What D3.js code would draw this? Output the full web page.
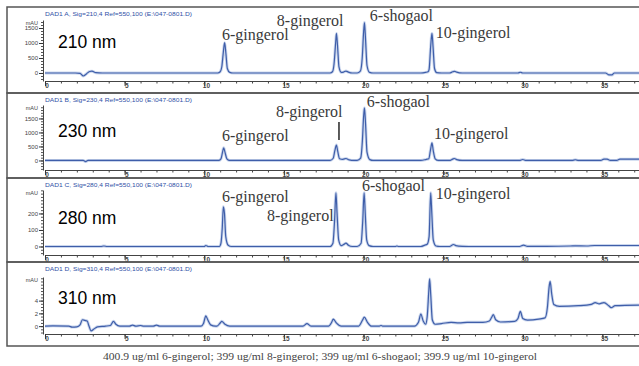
<!DOCTYPE html>
<html>
<head>
<meta charset="utf-8">
<script src="https://cdn.jsdelivr.net/npm/d3@7"></script>
<style>
  body { margin: 0; background: #fff; }
  svg { display: block; }
</style>
</head>
<body>
<svg id="chart"></svg>
<script>
// retention time axis (min)
const xTicks = [0, 5, 10, 15, 20, 25, 30, 35];

const wavelengths = ["210 nm", "230 nm", "280 nm", "310 nm"];
const signals = [
  "DAD1 A, Sig=210,4 Ref=550,100 (E:\\047-0801.D)",
  "DAD1 B, Sig=230,4 Ref=550,100 (E:\\047-0801.D)",
  "DAD1 C, Sig=280,4 Ref=550,100 (E:\\047-0801.D)",
  "DAD1 D, Sig=310,4 Ref=550,100 (E:\\047-0801.D)"
];

const yTicks210 = [0, 500, 1000, 1500];
const yTicks230 = [0, 500, 1000, 1500];
const yTicks280 = [0, 100, 200];
const yTicks310 = [0, 2, 4];

// [time, mAU]
const trace210 = [
  [0, 0], [1.9, 0], [2.2, -10], [2.4, -100], [2.6, -30], [2.8, 50], [2.95, 60], [3.2, 10], [3.6, 0],
  [10.85, 0], [11.0, 40], [11.1, 200], [11.2, 700], [11.28, 1010], [11.36, 650], [11.45, 150], [11.6, 20], [11.8, 0],
  [17.9, 0], [18.05, 40], [18.15, 300], [18.25, 1000], [18.3, 1320], [18.37, 900], [18.46, 200], [18.6, 20],
  [18.75, 30], [18.9, 65], [19.05, 30], [19.3, 0],
  [19.6, 0], [19.8, 60], [19.92, 500], [20.0, 1300], [20.06, 1680], [20.13, 1100], [20.22, 250], [20.38, 20], [20.6, 0],
  [23.6, 0], [23.9, 20], [24.05, 40], [24.12, 120], [24.22, 900], [24.3, 1320], [24.37, 850], [24.46, 150], [24.6, 10], [24.9, 0],
  [25.4, 0], [25.6, 40], [25.72, 55], [25.85, 30], [26.2, 0],
  [29.7, 0], [29.85, 25], [30.0, 0],
  [35.2, 0], [35.4, -60], [35.6, -65], [35.75, 0], [37.3, 0]
];
const trace230 = [
  [0, 0], [2.4, 0], [2.55, -40], [2.7, 0],
  [10.9, 0], [11.05, 60], [11.15, 300], [11.22, 450], [11.3, 300], [11.42, 60], [11.6, 0],
  [17.9, 0], [18.1, 80], [18.2, 350], [18.3, 550], [18.38, 330], [18.5, 60], [18.7, 40], [18.9, 70], [19.1, 20], [19.4, 0],
  [19.6, 0], [19.82, 80], [19.93, 700], [20.0, 1500], [20.06, 1875], [20.13, 1300], [20.22, 300], [20.4, 30], [20.6, 0],
  [23.6, 0], [23.95, 40], [24.1, 60], [24.2, 350], [24.3, 625], [24.38, 350], [24.5, 60], [24.7, 0],
  [25.4, 0], [25.6, 50], [25.7, 70], [25.85, 30], [26.2, 0],
  [29.8, 0], [30.0, 35], [30.2, 0],
  [33.1, 0], [33.3, 25], [33.5, 0],
  [34.9, 0], [35.1, 50], [35.3, 45], [35.5, 0], [35.9, 0], [36.1, 45], [37.3, 45]
];
const trace280 = [
  [0, 0], [3.5, 0], [3.7, 3], [3.9, 0], [10.0, 0], [10.1, 6], [10.25, 0],
  [10.95, 0], [11.05, 20], [11.13, 110], [11.2, 240], [11.27, 200], [11.35, 60], [11.5, 8], [11.7, 0],
  [17.9, 0], [18.08, 20], [18.18, 150], [18.27, 325], [18.34, 200], [18.44, 40], [18.6, 5], [18.75, 12], [18.9, 20], [19.05, 8], [19.3, 0],
  [19.6, 0], [19.85, 20], [19.95, 150], [20.04, 325], [20.11, 200], [20.2, 40], [20.35, 5], [20.6, 0],
  [22.0, 0], [22.1, 3], [22.2, 0],
  [23.6, 0], [23.85, 8], [24.0, 14], [24.12, 60], [24.22, 325], [24.29, 200], [24.38, 40], [24.55, 3], [24.8, 0],
  [25.4, 0], [25.65, 12], [25.8, 5], [26.2, 1], [26.6, 0],
  [29.8, 0], [30.05, 8], [30.3, 1], [31.5, 1], [33.0, 3], [33.3, 4], [34.0, 3], [34.5, 6], [37.3, 6]
];
const trace310 = [
  [0, 0], [0.5, 0.05], [1.5, 0], [1.7, -0.15], [2.0, -0.1], [2.2, 0.2], [2.35, 1.0], [2.5, 0.9], [2.65, 0.8], [2.75, 0.1],
  [2.9, -0.75], [3.05, -0.5], [3.3, -0.1], [3.8, 0], [4.1, 0.1], [4.3, 0.75], [4.45, 0.3], [4.7, 0],
  [5.3, 0], [5.5, 0.15], [5.7, 0], [6.0, 0.1], [6.2, 0], [6.8, 0], [7.0, 0.15], [7.2, 0],
  [9.8, 0], [9.95, 0.4], [10.1, 1.6], [10.22, 1.0], [10.4, 0.2], [10.7, 0],
  [10.8, 0], [11.0, 0.5], [11.1, 0.75], [11.3, 0.3], [11.6, 0],
  [16.2, 0], [16.45, 0.4], [16.7, 0],
  [17.8, 0], [18.0, 0.6], [18.1, 1.1], [18.3, 0.5], [18.6, 0],
  [19.7, 0], [19.95, 1.0], [20.05, 1.4], [20.25, 0.6], [20.5, 0],
  [21.0, 0], [21.1, 0.1], [21.2, 0],
  [23.2, 0], [23.45, 0.6], [23.6, 1.9], [23.75, 0.8], [23.9, 0.3], [24.0, 1.5], [24.1, 5.5], [24.15, 7.4], [24.22, 5.0],
  [24.32, 1.0], [24.5, 0.3], [24.9, 0.4], [25.5, 0.6], [26.0, 0.5], [26.5, 0.6], [27.5, 0.6], [27.9, 0.8],
  [28.05, 1.4], [28.15, 1.8], [28.3, 1.0], [28.6, 0.65], [29.5, 0.75], [29.7, 1.2], [29.85, 2.3], [30.0, 1.2],
  [30.3, 0.95], [31.0, 1.1], [31.4, 1.3], [31.55, 3.0], [31.65, 6.0], [31.72, 7.0], [31.82, 5.0], [31.95, 3.4],
  [32.3, 3.1], [33.5, 3.2], [34.3, 3.4], [34.55, 3.7], [34.8, 3.5], [35.1, 3.7], [35.4, 3.2], [35.55, 2.9], [35.8, 3.2], [37.3, 3.3]
];

// peak names, anchored in [time, mAU]
const labels210 = [["6-gingerol", 11.11, 1100], ["8-gingerol", 14.56, 1567], ["6-shogaol", 20.4, 1733], ["10-gingerol", 24.54, 1167]];
const labels230 = [["8-gingerol", 14.5, 1554], ["6-gingerol", 11.11, 696], ["6-shogaol", 20.21, 1911], ["10-gingerol", 24.42, 768]];
const labels280 = [["6-gingerol", 11.11, 270], ["8-gingerol", 13.94, 155], ["6-shogaol", 19.9, 334], ["10-gingerol", 24.54, 288]];
const labels310 = [];
const markers230 = [[18.46, 732, 1375]];

const caption = "400.9 ug/ml 6-gingerol; 399 ug/ml 8-gingerol; 399 ug/ml 6-shogaol; 399.9 ug/ml 10-gingerol";

const width = 639, height = 366;
const svg = d3.select("#chart").attr("width", width).attr("height", height);

const x = d3.scaleLinear().domain([0, 37.3]).range([45, 639]);

const panels = [
  { top: 7, bottom: 93, axisY: 81, plotTop: 20, yDom: [-267, 1767], ticks: yTicks210, minor: 100, trace: trace210, labels: labels210, markers: [], nameY: 48 },
  { top: 93, bottom: 178, axisY: 170, plotTop: 105, yDom: [-340, 1980], ticks: yTicks230, minor: 100, trace: trace230, labels: labels230, markers: markers230, nameY: 137 },
  { top: 178, bottom: 262, axisY: 255, plotTop: 190, yDom: [-51.5, 342], ticks: yTicks280, minor: 20, trace: trace280, labels: labels280, markers: [], nameY: 224 },
  { top: 262, bottom: 346, axisY: 334, plotTop: 277, yDom: [-1.23, 7.7], ticks: yTicks310, minor: 0.5, trace: trace310, labels: labels310, markers: [], nameY: 304 }
];

panels.forEach((p, i) => {
  const g = svg.append("g");

  g.append("rect")
    .attr("x", 7).attr("y", p.top)
    .attr("width", width).attr("height", p.bottom - p.top)
    .attr("fill", "none").attr("stroke", "#555").attr("stroke-width", 1.5);

  g.append("text")
    .attr("x", 45).attr("y", p.top + 8.5)
    .attr("font-family", "Liberation Sans, Arial, sans-serif")
    .attr("font-size", 5.5)
    .attr("fill", "#2f50a6")
    .attr("textLength", 147)
    .attr("lengthAdjust", "spacingAndGlyphs")
    .text(signals[i]);

  const y = d3.scaleLinear().domain(p.yDom).range([p.axisY, p.plotTop]);

  // x axis: minor + major ticks
  g.append("g")
    .attr("transform", `translate(0,${p.axisY})`)
    .call(d3.axisBottom(x).tickValues(d3.range(0, 38, 1)).tickSize(2.5).tickFormat(""))
    .call(a => a.select(".domain").remove())
    .call(a => a.selectAll("line").attr("stroke", "#444"));

  g.append("g")
    .attr("transform", `translate(0,${p.axisY})`)
    .call(d3.axisBottom(x).tickValues(xTicks).tickSize(5).tickPadding(-3).tickSizeOuter(0))
    .call(a => a.select(".domain").attr("stroke", "#444").attr("stroke-width", 1.2))
    .call(a => a.selectAll("line").attr("stroke", "#333"))
    .call(a => a.selectAll("text")
      .attr("dx", "0.25em")
      .attr("font-family", "Liberation Sans, Arial, sans-serif")
      .attr("font-size", 6.5).attr("font-weight", "bold").attr("fill", "#444"));

  // y axis
  const minorTicks = d3.range(Math.ceil(p.yDom[0] / p.minor) * p.minor, p.yDom[1], p.minor)
    .filter(v => y(v) >= p.plotTop && y(v) <= p.axisY);
  g.append("g")
    .attr("transform", "translate(43,0)")
    .call(d3.axisLeft(y).tickValues(minorTicks).tickSize(2).tickFormat(""))
    .call(a => a.select(".domain").remove())
    .call(a => a.selectAll("line").attr("stroke", "#555"));

  g.append("g")
    .attr("transform", "translate(43,0)")
    .call(d3.axisLeft(y).tickValues(p.ticks).tickSize(4).tickPadding(1).tickSizeOuter(0).tickFormat(d3.format("d")))
    .call(a => a.select(".domain").attr("stroke", "#444"))
    .call(a => a.selectAll("line").attr("stroke", "#333"))
    .call(a => a.selectAll("text")
      .attr("font-family", "Liberation Sans, Arial, sans-serif")
      .attr("font-size", 6).attr("fill", "#444"));

  g.append("text")
    .attr("x", 38).attr("y", p.plotTop + 5)
    .attr("text-anchor", "end")
    .attr("font-family", "Liberation Sans, Arial, sans-serif")
    .attr("font-size", 5.5).attr("fill", "#444")
    .text("mAU");

  // trace
  const line = d3.line()
    .x(d => x(d[0]))
    .y(d => y(d[1]))
    .curve(d3.curveMonotoneX);

  g.append("path")
    .datum(p.trace)
    .attr("d", line)
    .attr("fill", "none")
    .attr("stroke", "#b4c4e6")
    .attr("stroke-width", 3)
    .attr("stroke-opacity", 0.7);

  g.append("path")
    .datum(p.trace)
    .attr("d", line)
    .attr("fill", "none")
    .attr("stroke", "#3f5ea9")
    .attr("stroke-width", 1.2)
    .attr("stroke-linejoin", "round");

  // peak annotations
  g.selectAll(".peak")
    .data(p.labels)
    .join("text")
    .attr("class", "peak")
    .attr("x", d => x(d[1]))
    .attr("y", d => y(d[2]))
    .attr("font-family", "Liberation Serif, Times New Roman, serif")
    .attr("font-size", 16)
    .attr("fill", "#3a3a3a")
    .text(d => d[0]);

  g.selectAll(".marker")
    .data(p.markers)
    .join("line")
    .attr("class", "marker")
    .attr("x1", d => x(d[0])).attr("x2", d => x(d[0]))
    .attr("y1", d => y(d[1])).attr("y2", d => y(d[2]))
    .attr("stroke", "#333").attr("stroke-width", 1.6);

  g.append("text")
    .attr("x", 58).attr("y", p.nameY)
    .attr("font-family", "Liberation Sans, Arial, sans-serif")
    .attr("font-size", 17.5)
    .attr("fill", "#000")
    .text(wavelengths[i]);
});

svg.append("text")
  .attr("x", 320).attr("y", 360)
  .attr("text-anchor", "middle")
  .attr("font-family", "Liberation Serif, Times New Roman, serif")
  .attr("font-size", 10.5)
  .attr("fill", "#444")
  .attr("textLength", 434)
  .attr("lengthAdjust", "spacingAndGlyphs")
  .text(caption);
</script>
</body>
</html>
